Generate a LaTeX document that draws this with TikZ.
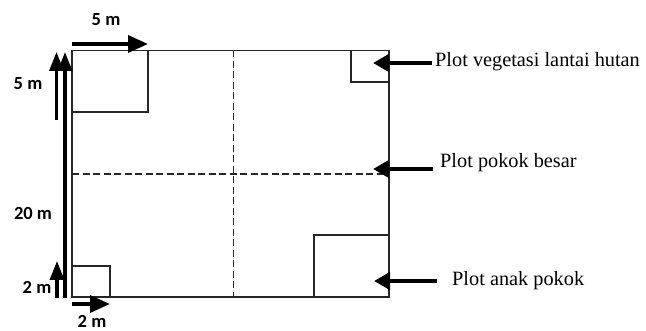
\documentclass[tikz,border=0pt]{standalone}
\usepackage{fontspec}
\setmainfont{Liberation Serif}
\newfontfamily\lblfont{Carlito}
\usetikzlibrary{arrows.meta}
\tikzset{
  plot/.style={draw=black!85, line width=1.3pt},
  divider/.style={draw=black!85, line width=1.3pt, dash pattern=on 7pt off 3.5pt},
  dimarrow/.style={line width=3.6pt, -{Triangle[length=20pt,width=17pt]}},
  vdimarrow/.style={line width=3.4pt, -{Triangle[length=19pt,width=14pt]}},
  callout/.style={line width=4pt, -{Triangle[length=16pt,width=17pt]}},
  dimlabel/.style={font=\lblfont\bfseries\fontsize{18.5}{20}\selectfont, inner sep=0pt},
  calltext/.style={font=\fontsize{20.3}{22}\selectfont, anchor=west, inner sep=0pt},
}
\begin{document}
\begin{tikzpicture}[x=1pt,y=-1pt]
\useasboundingbox (0,0) rectangle (646,331);
% main plot and sub-plots
\draw[plot] (72,50.5) rectangle (389,297);
\draw[plot] (72,50.5) rectangle (148,112);
\draw[plot] (351,50.5) rectangle (389,82);
\draw[plot] (314,235) rectangle (389,297);
\draw[plot] (72,266) rectangle (110,297);
\draw[divider] (233.5,50.5) -- (233.5,297);
\draw[divider] (72,174) -- (389,174);
% coordinates for dimension arrows
\coordinate (t5a) at (72,44);   \coordinate (t5b) at (148,44);
\coordinate (l5a) at (56.5,120); \coordinate (l5b) at (56.5,52);
\coordinate (l20a) at (65,298); \coordinate (l20b) at (65,52);
\coordinate (l2a) at (57,298);  \coordinate (l2b) at (57,261);
\coordinate (b2a) at (72,304);  \coordinate (b2b) at (110,304);
\draw[dimarrow] (t5a) -- (t5b);
\draw[vdimarrow] (l20a) -- (l20b);
\draw[vdimarrow] (l5a) -- (l5b);
\draw[vdimarrow] (l2a) -- (l2b);
\draw[dimarrow] (b2a) -- (b2b);
\node[dimlabel] (lt5) at (106,20) {5 m};
\node[dimlabel] (ll5) at (28,84) {5 m};
\node[dimlabel] (ll20) at (33,213) {20 m};
\node[dimlabel] (ll2) at (37,287) {2 m};
\node[dimlabel] (lb2) at (92,321) {2 m};
% callouts
\node[calltext] (veg) at (435,62) {Plot vegetasi lantai hutan};
\node[calltext] (besar) at (440,163) {Plot pokok besar};
\node[calltext] (anak) at (452,281) {Plot anak pokok};
\coordinate (vegtip) at (373,63);  \coordinate (vegtail) at (432,63);
\coordinate (bestip) at (373,169); \coordinate (bestail) at (433,169);
\coordinate (anatip) at (374,281); \coordinate (anatail) at (437,281);
\draw[callout] (vegtail) -- (vegtip);
\draw[callout] (bestail) -- (bestip);
\draw[callout] (anatail) -- (anatip);
\end{tikzpicture}
\end{document}
